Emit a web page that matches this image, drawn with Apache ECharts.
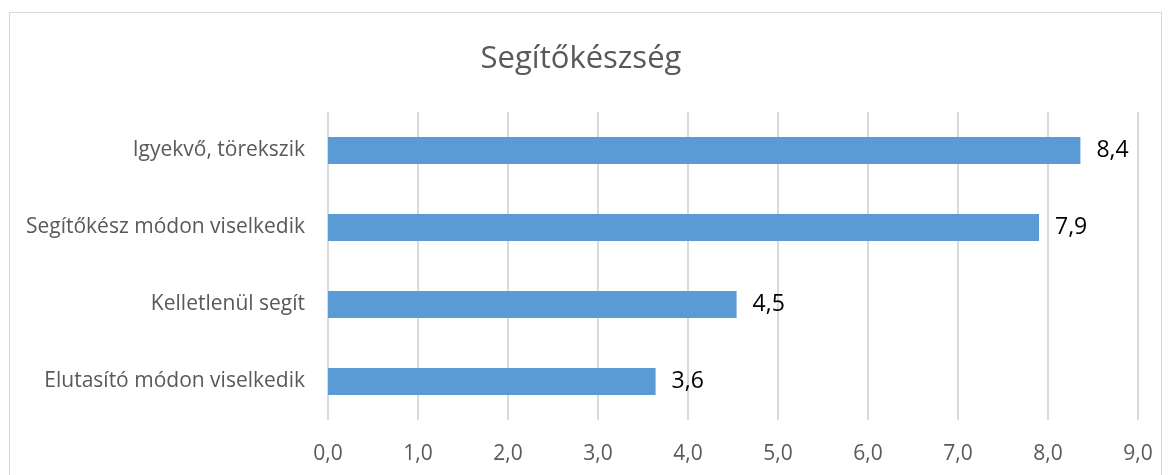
<!DOCTYPE html>
<html>
<head>
<meta charset="utf-8">
<script src="https://cdn.jsdelivr.net/npm/echarts@6/dist/echarts.min.js"></script>
<style>
    html, body {
        margin: 0;
        padding: 0;
        width: 1171px;
        height: 475px;
        overflow: hidden;
        background: #ffffff;
    }
    #chart_box {
        position: absolute;
        left: 0;
        top: 0;
        width: 1171px;
        height: 475px;
    }
    .frame {
        position: absolute;
        left: 9px;
        top: 12px;
        width: 1151px;
        height: 480px;
        border: 1px solid #d9d9d9;
        pointer-events: none;
    }
</style>
</head>
<body>
<div id="chart_box"></div>
<div class="frame"></div>
<script>
const titleText = 'Segítőkészség';
const categories = [
    'Igyekvő, törekszik',
    'Segítőkész módon viselkedik',
    'Kelletlenül segít',
    'Elutasító módon viselkedik'
];
const values = [8.36, 7.9, 4.54, 3.64];
const xTicks = [0, 1, 2, 3, 4, 5, 6, 7, 8, 9];

const fmt = (v) => Number(v).toFixed(1).replace('.', ',');

let option = {
    animation: false,
    textStyle: { fontFamily: 'Open Sans' },
    title: {
        text: titleText,
        left: 576,
        top: 39,
        textAlign: 'center',
        textStyle: {
            fontFamily: 'Open Sans',
            fontSize: 31,
            fontWeight: 'normal',
            color: '#595959'
        }
    },
    grid: {
        left: 328,
        right: 33,
        top: 112,
        bottom: 55
    },
    xAxis: {
        type: 'value',
        min: xTicks[0],
        max: xTicks[xTicks.length - 1],
        interval: 1,
        axisLine: { show: false },
        axisTick: { show: false },
        splitLine: {
            show: true,
            lineStyle: { color: '#d9d9d9', width: 2 }
        },
        axisLabel: {
            margin: 24,
            fontSize: 21,
            color: '#595959',
            formatter: fmt
        }
    },
    yAxis: {
        type: 'category',
        inverse: true,
        data: categories,
        axisLine: { show: false },
        axisTick: { show: false },
        axisLabel: {
            margin: 23,
            fontSize: 21,
            color: '#595959'
        }
    },
    series: [
        {
            type: 'bar',
            data: values,
            barWidth: 27,
            itemStyle: { color: '#5b9bd5' },
            label: {
                show: true,
                position: 'right',
                distance: 16,
                fontSize: 23,
                color: '#000000',
                formatter: (p) => fmt(p.value)
            }
        }
    ]
};

const chartInit = () => {
    let myChart = echarts.init(document.getElementById('chart_box'));
    option && myChart.setOption(option);
}
chartInit();
</script>
</body>
</html>
